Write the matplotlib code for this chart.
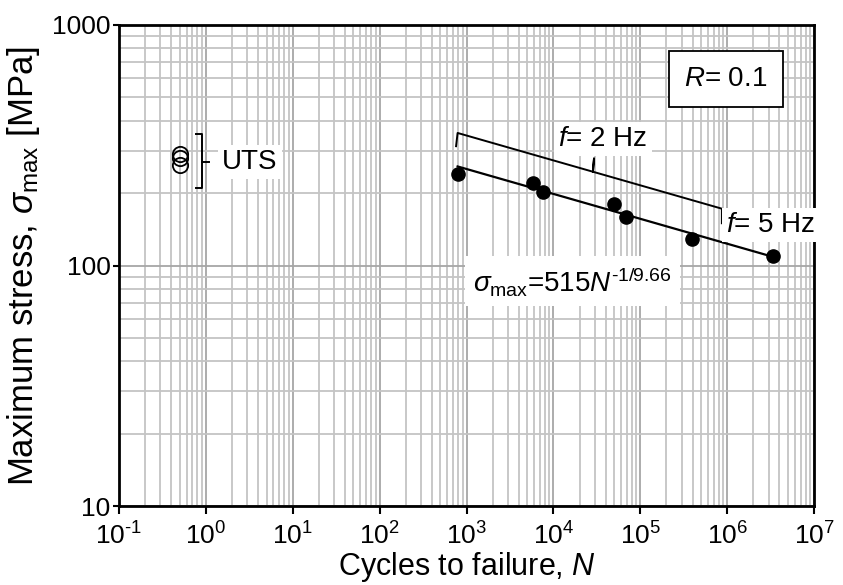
import numpy as np
import matplotlib
matplotlib.use("Agg")
import matplotlib.pyplot as plt
from matplotlib.ticker import LogLocator, FuncFormatter, NullFormatter

plt.rcParams['font.family'] = ['Liberation Sans', 'DejaVu Sans']
plt.rcParams['mathtext.fontset'] = 'custom'
plt.rcParams['mathtext.rm'] = 'Liberation Sans'
plt.rcParams['mathtext.it'] = 'Liberation Sans:italic'
plt.rcParams['mathtext.bf'] = 'Liberation Sans:bold'

HY = '\u2010'  # hyphen used as minus sign in exponents

# Fatigue test results (cycles to failure, maximum stress in MPa)
cycles = [790, 5770, 7640, 49900, 68300, 396000, 3380000]
stress = [240, 221, 203, 181, 159, 129, 109.5]

# Static strength (UTS) results, plotted at N = 0.5
uts_cycles = [0.5, 0.5, 0.5]
uts_stress = [290, 280, 262]

# Basquin fit: sigma_max = A * N^(-1/k)
fit_A = 515
fit_k = 9.66

# Span of the 2 Hz tests marked by the brace
brace_start, brace_mid, brace_end = 790, 2.85e4, 8.7e5
brace_factor = 1.378

x_ticks = [10.0 ** e for e in range(-1, 8)]
y_ticks = [10, 100, 1000]

fig = plt.figure(figsize=(8.43, 5.85), dpi=100)
ax = fig.add_axes([119 / 843, 1 - 506 / 585, (814 - 119) / 843, (506 - 25) / 585])
ax.set_xscale('log')
ax.set_yscale('log')
ax.set_xlim(0.1, 1e7)
ax.set_ylim(10, 1000)

# grid
ax.xaxis.set_minor_locator(LogLocator(base=10, subs=np.arange(2, 10)))
ax.yaxis.set_minor_locator(LogLocator(base=10, subs=np.arange(2, 10)))
ax.xaxis.set_minor_formatter(NullFormatter())
ax.yaxis.set_minor_formatter(NullFormatter())
ax.grid(True, which='minor', color='#c4c4c4', lw=1.3, zorder=0)
ax.grid(True, which='major', color='#a6a6a6', lw=1.3, zorder=0)
ax.set_axisbelow(True)


def exp_label(v, p):
    e = int(round(np.log10(v)))
    s = str(e).replace('-', HY)
    return r'$\mathregular{10^{%s}}$' % s


ax.set_xticks(x_ticks)
ax.set_yticks(y_ticks)
ax.xaxis.set_major_formatter(FuncFormatter(exp_label))
ax.yaxis.set_major_formatter(FuncFormatter(lambda v, p: '%d' % v))
ax.tick_params(which='major', direction='out', width=1.5,
               labelsize=19, color='black')
ax.tick_params(axis='x', length=6, pad=6)
ax.tick_params(axis='y', length=4, pad=2)
ax.tick_params(which='minor', length=0)
for s in ax.spines.values():
    s.set_linewidth(2)
    s.set_color('black')

ax.set_xlabel(r'Cycles to failure, $N$', fontsize=22, labelpad=0)
ax.set_ylabel(r'Maximum stress, $\sigma_{\mathrm{max}}$ [MPa]', fontsize=25, labelpad=7)

# fit line
N_fit = np.logspace(np.log10(cycles[0]), np.log10(cycles[-1]), 100)
ax.plot(N_fit, fit_A * N_fit ** (-1 / fit_k), color='black', lw=1.6, zorder=3)

# data points
ax.plot(cycles, stress, 'o', color='black', ms=9.5, zorder=4)
ax.plot(uts_cycles, uts_stress, 'o', mfc='none', mec='black', mew=1.3, ms=11, zorder=4)


def brace_y(n):
    return brace_factor * fit_A * n ** (-1 / fit_k)


# brace over the 2 Hz results
hook = 10 ** 0.055
bx = [brace_start * 0.96, brace_start, brace_mid, brace_mid * 1.03, brace_mid, brace_end, brace_end]
by = [brace_y(brace_start) / hook, brace_y(brace_start), brace_y(brace_mid),
      brace_y(brace_mid) * hook, brace_y(brace_mid), brace_y(brace_end),
      brace_y(brace_end) / hook ** 1.1]
ax.plot(bx, by, color='black', lw=1.4, zorder=3)

# bracket next to the UTS points
ax.plot([0.77, 0.90, 0.90, 0.77], [351, 351, 210.6, 210.6], color='black', lw=1.4, zorder=3)
ax.plot([0.90, 1.085], [270, 270], color='black', lw=1.4, zorder=3)

white = dict(facecolor='white', edgecolor='none', pad=3)
ax.text(3.2, 269, 'UTS', fontsize=20, ha='center', va='center', bbox=white, zorder=5)
ax.text(3.7e4, 335, r'$f$= 2 Hz', fontsize=20, ha='center', va='center', bbox=white, zorder=5)
ax.text(3.18e6, 147, r'$f$= 5 Hz', fontsize=20, ha='center', va='center', bbox=white, zorder=5)
ax.text(1.67e4, 86, r'$\sigma_{\mathrm{max}}$=515$N^{%s1/9.66}$' % HY, fontsize=20,
        ha='center', va='center', bbox=dict(facecolor='white', edgecolor='none', pad=6), zorder=5)
ax.text(9.67e5, 596, r'$R$= 0.1', fontsize=20, ha='center', va='center', zorder=5,
        bbox=dict(facecolor='white', edgecolor='black', lw=1.3, pad=11))

fig.savefig('out.png', dpi=100)
